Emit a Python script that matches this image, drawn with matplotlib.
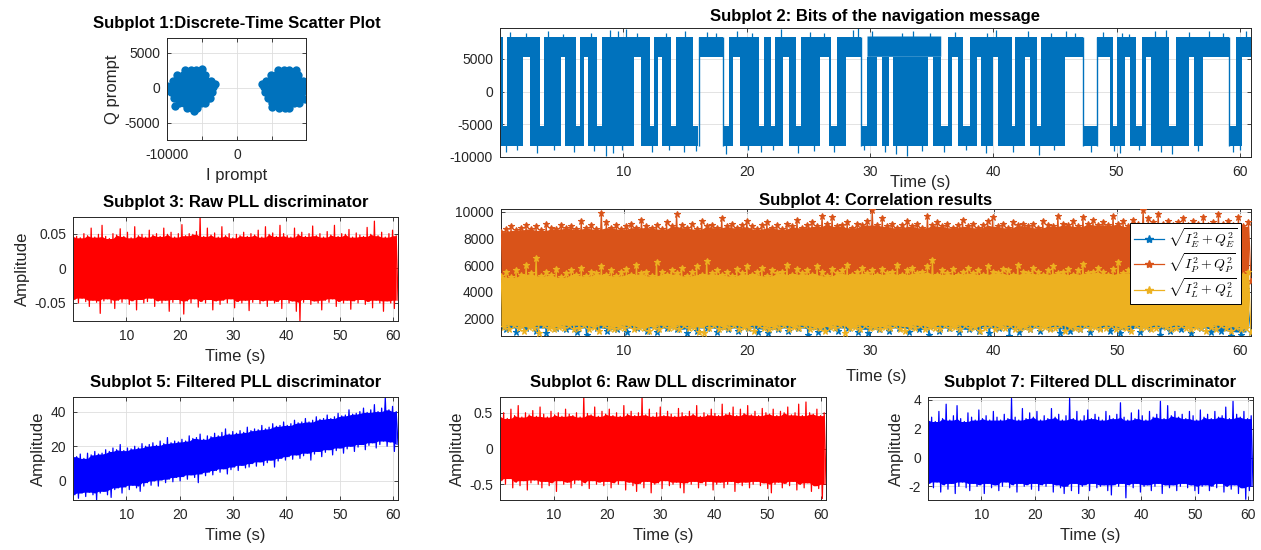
import numpy as np
import matplotlib.pyplot as plt
from matplotlib.lines import Line2D
from matplotlib.ticker import FuncFormatter

plt.rcParams['font.family'] = ['Liberation Sans', 'DejaVu Sans']
plt.rcParams['mathtext.fontset'] = 'cm'
plt.rcParams['axes.unicode_minus'] = False
plt.rcParams['path.simplify'] = False

# ---------------- values ----------------
# subplot 1: prompt I/Q points (two clusters)
iq_left_i = [-7400, -6600, -5800,
             -8500, -7700, -6900, -6100, -5300, -4500,
             -9100, -8300, -7500, -6700, -5900, -5100, -4300, -3700,
             -9500, -8700, -7900, -7100, -6300, -5500, -4700, -3900, -3400,
             -9400, -8600, -7800, -7000, -6200, -5400, -4600, -3800, -3500,
             -9000, -8200, -7400, -6600, -5800, -5000, -4200, -3800,
             -8300, -7500, -6700, -5900, -5100, -4500,
             -7200, -6400, -5700,
             -10000, -8900, -3200, -5000, -6200]
iq_left_q = [2500, 2500, 2500,
             1800, 1800, 1800, 1800, 1800, 1800,
             1000, 1000, 1000, 1000, 1000, 1000, 1000, 1000,
             200, 200, 200, 200, 200, 200, 200, 200, 200,
             -600, -600, -600, -600, -600, -600, -600, -600, -600,
             -1400, -1400, -1400, -1400, -1400, -1400, -1400, -1400,
             -2200, -2200, -2200, -2200, -2200, -2200,
             -2900, -2900, -2900,
             300, -2600, 600, 2700, -3300]
iq_right_i = [5900, 6700, 7500,
              4800, 5600, 6400, 7200, 8000, 8700,
              4200, 5000, 5800, 6600, 7400, 8200, 8900, 9400,
              3900, 4800, 5600, 6400, 7200, 8000, 8800, 9400,
              4000, 4900, 5700, 6500, 7300, 8100, 8900, 9300,
              4500, 5300, 6100, 6900, 7700, 8500, 9200,
              5000, 5800, 6600, 7400, 8200, 8800,
              6000, 6800, 7500,
              3600, 9900, 9700, 5000, 8500]
iq_right_q = [2500, 2500, 2500,
              1800, 1800, 1800, 1800, 1800, 1800,
              1000, 1000, 1000, 1000, 1000, 1000, 1000, 1000,
              200, 200, 200, 200, 200, 200, 200, 200,
              -600, -600, -600, -600, -600, -600, -600, -600,
              -1400, -1400, -1400, -1400, -1400, -1400, -1400,
              -2200, -2200, -2200, -2200, -2200, -2200,
              -2900, -2900, -2900,
              600, 800, -1600, -2700, 2600]

# subplot 2: navigation bits, segment end times (s) and state
# H = held high, L = held low, X = bits toggling quickly
nav_ends = [0.3, 0.6, 1.9, 2.4, 3.3, 3.6, 5.0, 5.3, 6.2, 6.5,
            6.8, 7.1, 7.9, 8.3, 10.9, 11.4, 12.2, 12.5, 12.8, 13.1,
            13.9, 14.3, 15.7, 16.1, 18.1, 18.6, 18.9, 19.5, 21.0, 21.4,
            22.0, 22.3, 23.0, 23.4, 24.0, 24.4, 26.0, 26.7, 26.9, 27.3,
            28.1, 29.3, 29.8, 30.6, 31.0, 31.6, 31.9, 34.7, 35.1, 35.8,
            36.3, 36.7, 37.1, 37.6, 38.1, 38.7, 39.0, 40.0, 40.4, 41.5,
            41.8, 42.6, 43.0, 43.6, 43.9, 45.8, 47.3, 48.4, 49.5, 49.7,
            50.0, 50.7, 51.1, 51.6, 52.1, 52.4, 52.8, 54.3, 54.8, 55.9,
            56.3, 57.0, 59.1, 59.7, 60.2, 61.0]
nav_states = ("XLXHXLXHXL" "XHXLXHXLXH" "XLXLHLXHXL" "XLXHXLXHXL" "XHLXHXHXHX"
              "LXHXLXHXHX" "LXHXLXHLHX" "LXHXLXHXLX" "HXHLXH")
nav_high = [8400, 5300]     # outer / inner edge of the high band
nav_low = [-5200, -8300]    # inner / outer edge of the low band
# isolated noise spikes beyond the band edges
nav_up_spike_t = [0.8, 2.1, 3.9, 5.1, 7.4, 8.9, 9.6, 10.2, 11.1, 13.5,
                  15.0, 16.8, 17.5, 19.2, 20.4, 22.8, 25.1, 26.3, 28.6, 29.0,
                  30.2, 32.6, 33.5, 34.9, 36.9, 39.5, 40.2, 42.8, 44.7, 45.9,
                  46.6, 48.9, 50.4, 51.0, 53.1, 54.0, 55.9, 57.5, 58.6, 60.5]
nav_up_spike_v = [9100, 8900, 9300, 8800, 9000, 9400, 9200, 9600, 9000, 8900,
                  9300, 9100, 8900, 9200, 9000, 9500, 9100, 8900, 9400, 9700,
                  9200, 9000, 9300, 8900, 9100, 9000, 9400, 9200, 9000, 9300,
                  8900, 9100, 9000, 8800, 9200, 9400, 9100, 9300, 9000, 9200]
nav_dn_spike_t = [0.5, 1.4, 3.0, 4.4, 6.0, 7.6, 8.6, 9.2, 9.9, 12.3,
                  13.7, 14.9, 15.9, 18.3, 20.1, 21.2, 22.1, 24.2, 25.5, 27.1,
                  29.5, 31.2, 32.1, 33.0, 34.2, 36.0, 37.8, 39.4, 41.6, 43.7,
                  44.9, 47.9, 49.8, 50.3, 51.8, 53.6, 54.5, 56.6, 59.4, 60.0]
nav_dn_spike_v = [-9200, -9000, -9400, -8900, -9300, -9100, -9900, -9400, -9000, -9200,
                  -8900, -9300, -9100, -9500, -9000, -9200, -8900, -9400, -9100, -9300,
                  -9000, -9200, -9600, -9800, -9100, -9300, -9000, -9400, -9200, -9700,
                  -9000, -9300, -9100, -9400, -9000, -9200, -9500, -9100, -9300, -9000]

# subplot 3: raw PLL discriminator, upper / lower edge of the trace
pll_hi = [0.052, 0.046, 0.044, 0.05, 0.047, 0.058, 0.045, 0.049, 0.062, 0.046,
          0.043, 0.05, 0.048, 0.057, 0.046, 0.052, 0.044, 0.06, 0.047, 0.049,
          0.045, 0.055, 0.048, 0.05, 0.046, 0.058, 0.049, 0.052, 0.045, 0.05,
          0.063, 0.047, 0.05, 0.049, 0.053, 0.074, 0.046, 0.058, 0.048, 0.051,
          0.045, 0.06, 0.047, 0.05, 0.044, 0.049, 0.047, 0.052, 0.046, 0.05,
          0.048, 0.055, 0.045, 0.06, 0.049, 0.051, 0.046, 0.062, 0.05, 0.047,
          0.045, 0.058, 0.049, 0.052, 0.046, 0.05, 0.061, 0.047, 0.05, 0.045,
          0.053, 0.048, 0.062, 0.046, 0.05, 0.049, 0.056, 0.045, 0.051, 0.048,
          0.046, 0.059, 0.049, 0.068, 0.047, 0.052, 0.045, 0.05, 0.055, 0.047]
pll_lo = [-0.045, -0.05, -0.043, -0.048, -0.055, -0.046, -0.049, -0.065, -0.047, -0.044,
          -0.05, -0.058, -0.046, -0.049, -0.044, -0.052, -0.047, -0.06, -0.045, -0.05,
          -0.048, -0.043, -0.055, -0.047, -0.05, -0.046, -0.062, -0.049, -0.045, -0.051,
          -0.066, -0.047, -0.05, -0.044, -0.056, -0.048, -0.05, -0.045, -0.06, -0.047,
          -0.052, -0.046, -0.05, -0.044, -0.057, -0.048, -0.05, -0.046, -0.061, -0.049,
          -0.045, -0.051, -0.047, -0.055, -0.046, -0.05, -0.048, -0.058, -0.045, -0.05,
          -0.047, -0.062, -0.076, -0.049, -0.045, -0.052, -0.047, -0.05, -0.06, -0.046,
          -0.049, -0.044, -0.055, -0.048, -0.05, -0.046, -0.059, -0.047, -0.05, -0.045,
          -0.052, -0.048, -0.057, -0.046, -0.05, -0.062, -0.047, -0.05, -0.058, -0.046]

# subplot 5: filtered PLL discriminator
fpll_hi = [16, 14, 15.5, 13, 16, 15, 17, 15.5, 16, 18,
           17, 19, 18, 21, 17.5, 19, 18.5, 20, 19, 21.5,
           20, 21, 22, 20.5, 23, 21.5, 25, 22, 23, 22.5,
           24, 23, 26, 24.5, 25, 27, 24, 26, 25.5, 27.5,
           26, 28, 30, 27, 28.5, 27.5, 29, 28, 31, 29,
           30, 29.5, 32, 30, 31, 33, 31.5, 32, 34, 32,
           33, 35, 33.5, 34, 36, 34, 35, 37, 35.5, 36,
           38, 36, 37, 39, 37.5, 38, 41, 38.5, 39, 40,
           42, 39.5, 41, 44, 40, 42, 48, 41, 43, 40]
fpll_lo = [-8, -10, -7, -9, -6.5, -8, -11, -7, -6, -8,
           -9.5, -5, -4, -7, -3.5, -5, -2.5, -4, -6, -3,
           -1, -2.5, 0, -3, 0.5, -1, 1, -0.5, 2, 0,
           2.5, 1, 3.5, 2, -1, 4, 3, 5, 3.5, 6,
           5, 7, 4, 6.5, 8, 6, 9, 7.5, 8, 10,
           8.5, 11, 9, 10.5, 12, 8, 11.5, 13, 12, 14,
           12.5, 15, 13, 14.5, 16, 12, 15.5, 17, 14, 16.5,
           18, 15, 17.5, 19, 16, 18.5, 20, 17, 19.5, 21,
           18, 20.5, 22, 19, 21, 23, 20, 22.5, 17, 21]

# subplot 6: raw DLL discriminator
dll_hi = [0.45, 0.5, 0.42, 0.55, 0.46, 0.6, 0.44, 0.5, 0.47, 0.53,
          0.45, 0.58, 0.48, 0.44, 0.52, 0.47, 0.5, 0.45, 0.55, 0.48,
          0.46, 0.5, 0.44, 0.72, 0.49, 0.47, 0.58, 0.45, 0.52, 0.48,
          0.55, 0.46, 0.5, 0.45, 0.6, 0.48, 0.52, 0.46, 0.5, 0.72,
          0.47, 0.55, 0.45, 0.5, 0.58, 0.46, 0.52, 0.48, 0.45, 0.56,
          0.5, 0.46, 0.52, 0.48, 0.6, 0.45, 0.5, 0.47, 0.55, 0.49,
          0.46, 0.62, 0.48, 0.5, 0.58, 0.46, 0.55, 0.49, 0.6, 0.47,
          0.52, 0.46, 0.56, 0.5, 0.48, 0.55, 0.46, 0.52, 0.5, 0.58,
          0.47, 0.5, 0.62, 0.46, 0.65, 0.5, 0.48, 0.55, 0.46, 0.5]
dll_lo = [-0.45, -0.5, -0.42, -0.55, -0.47, -0.52, -0.45, -0.58, -0.48, -0.44,
          -0.5, -0.55, -0.46, -0.52, -0.48, -0.6, -0.45, -0.5, -0.47, -0.55,
          -0.49, -0.44, -0.52, -0.48, -0.56, -0.45, -0.5, -0.47, -0.52, -0.46,
          -0.55, -0.48, -0.5, -0.45, -0.58, -0.47, -0.52, -0.6, -0.49, -0.55,
          -0.46, -0.62, -0.5, -0.48, -0.56, -0.45, -0.52, -0.5, -0.47, -0.55,
          -0.62, -0.48, -0.5, -0.46, -0.55, -0.48, -0.52, -0.46, -0.58, -0.5,
          -0.47, -0.55, -0.5, -0.46, -0.6, -0.48, -0.52, -0.47, -0.55, -0.5,
          -0.46, -0.52, -0.48, -0.56, -0.62, -0.5, -0.47, -0.55, -0.49, -0.52,
          -0.46, -0.58, -0.5, -0.55, -0.48, -0.6, -0.52, -0.56, -0.7, -0.5]

# subplot 7: filtered DLL discriminator
fdll_hi = [2.6, 2.8, 2.5, 3.2, 2.7, 3.7, 2.6, 2.9, 3.6, 2.7,
           2.5, 3.1, 2.8, 2.6, 3.3, 2.7, 2.9, 2.6, 3.2, 2.8,
           2.6, 3.0, 2.7, 4.1, 2.8, 2.6, 3.4, 2.7, 3.1, 2.8,
           3.2, 2.6, 2.9, 2.7, 3.4, 2.8, 3.0, 2.6, 2.9, 4.1,
           2.7, 3.2, 2.6, 2.9, 3.3, 2.7, 3.0, 2.8, 2.6, 3.2,
           2.9, 2.7, 3.0, 3.8, 2.8, 2.6, 3.1, 2.7, 3.3, 2.9,
           2.6, 3.2, 2.8, 3.0, 3.9, 2.7, 3.6, 2.9, 3.2, 2.8,
           3.0, 2.7, 3.2, 2.9, 2.6, 3.3, 2.8, 3.0, 2.7, 3.2,
           2.8, 2.9, 3.5, 2.7, 3.9, 3.0, 2.8, 3.2, 2.7, 2.9]
fdll_lo = [-1.8, -2.1, -1.7, -2.4, -1.9, -2.2, -1.8, -2.5, -2.0, -1.7,
           -2.1, -2.3, -1.8, -2.0, -1.9, -2.5, -1.8, -2.1, -1.9, -2.3,
           -2.0, -1.7, -2.1, -1.9, -2.4, -1.8, -2.0, -1.9, -2.2, -1.8,
           -2.3, -1.9, -2.0, -1.8, -2.4, -1.9, -2.1, -2.5, -2.0, -2.3,
           -1.8, -2.5, -2.0, -1.9, -2.3, -1.8, -2.1, -2.0, -1.9, -2.3,
           -2.6, -1.9, -2.0, -1.8, -2.8, -1.9, -2.1, -1.8, -2.4, -2.0,
           -1.9, -2.3, -2.0, -1.8, -2.5, -1.9, -2.1, -1.9, -2.3, -2.0,
           -1.8, -2.1, -1.9, -2.3, -2.5, -2.0, -1.9, -2.3, -2.0, -2.1,
           -1.8, -2.4, -2.0, -2.2, -1.9, -2.5, -2.1, -2.9, -2.3, -2.0]

# subplot 4: correlator magnitudes (early / prompt / late)
early_hi = [4000, 4300, 3900, 4200, 4100, 3800, 4400, 4000, 4200, 3900, 4100, 4300, 3800, 4200, 4000,
            4300, 3900, 4100, 4400, 4000, 3800, 4200, 4100, 4300, 3900, 4000, 4200, 3800, 4400, 4100,
            3900, 4300, 4000, 4200, 3800, 4100, 4400, 3900, 4200, 4000, 4300, 3800, 4100, 4200, 3900,
            4400, 4000, 4100, 4300, 3800, 4200, 3900, 4000, 4400, 4100, 3800, 4300, 4000, 4200, 3900,
            4100, 4300, 3800, 4200, 4000, 4400, 3900, 4100, 4200, 3800, 4300, 4000, 4100, 3900, 4200]
early_lo = [1200, 1000, 1300, 1100, 900, 1300, 1200, 1000, 800, 1300, 1100, 1200, 1000, 1300, 1100,
            1000, 1300, 1200, 900, 1100, 1300, 1000, 1200, 1100, 1300, 1000, 900, 1200, 1100, 1300,
            800, 1000, 1200, 1100, 1300, 1000, 900, 1200, 1100, 1300, 1000, 1200, 800, 1100, 1300,
            1000, 1200, 1100, 900, 1300, 700, 1000, 1200, 1100, 1300, 900, 1100, 1200, 1000, 1300,
            1100, 900, 1200, 1000, 1300, 800, 1100, 1200, 900, 1300, 1000, 1100, 700, 800, 1000]
prompt_hi = [8500, 8700, 8900, 8600, 8800, 9000, 8700, 8900, 8600, 9100, 8800, 8700, 9000, 8800, 8900,
             8700, 9300, 8800, 9000, 8700, 9900, 9200, 8800, 9000, 8700, 8900, 9100, 8800, 9400, 8900,
             8800, 9000, 8700, 9200, 8900, 9800, 9000, 8800, 9100, 8700, 9300, 8900, 9000, 8800, 9500,
             8900, 9100, 8800, 9000, 9300, 8900, 8700, 9000, 9200, 8800, 9000, 8700, 9100, 8900, 9400,
             8800, 9000, 9200, 8900, 9700, 9100, 9600, 8900, 9000, 9200, 8800, 9100, 9000, 9300, 10100,
             9000, 9500, 8900, 9100, 8800, 9000, 9300, 8900, 9100, 8800, 9700, 9000, 9200, 8900, 9100,
             8800, 9000, 9400, 8900, 9100, 8800, 9000, 9300, 9600, 8900, 9100, 8800, 9200, 9000, 9100,
             8900, 9100, 8800, 9300, 9000, 8900, 9700, 9100, 9000, 9300, 8900, 9600, 9100, 9400, 9000,
             9200, 9000, 9700, 9100, 9300, 8900, 9400, 9100, 10100, 9500, 9200, 9800, 9100, 9300, 9000,
             9200, 9500, 9000, 9300, 9100, 9600, 9000, 9200, 9800, 9100, 9300, 9000, 9600, 8900, 9200]
prompt_lo = [4800, 4600, 4900, 4700, 5000, 4800, 4600, 4900, 4700, 4800, 5000, 4600, 4800, 4900, 4700,
             4900, 4700, 4800, 4600, 5000, 4700, 4900, 4800, 4600, 4800, 4900, 4700, 5000, 4800, 4600,
             4700, 4900, 4600, 4800, 4700, 5000, 4800, 4600, 4900, 4700, 4800, 4600, 4900, 5000, 4800,
             4600, 4800, 4900, 4700, 4800, 4600, 5000, 4700, 4900, 4800, 4700, 4900, 4600, 4800, 4900,
             4800, 4700, 4600, 4900, 4800, 5000, 4700, 4800, 4600, 4900, 4700, 4800, 5000, 4600, 4800,
             4700, 4900, 4800, 4600, 4700, 4900, 4800, 5000, 4700, 4600, 4800, 4900, 4700, 4800, 4600,
             4900, 4600, 4800, 4700, 5000, 4800, 4900, 4600, 4700, 4800, 4900, 4700, 4600, 4800, 5000,
             4700, 4800, 4600, 4900, 4800, 4700, 4900, 4600, 4800, 5000, 4700, 4800, 4900, 4600, 4700,
             4800, 4900, 4700, 4600, 4800, 5000, 4700, 4900, 4800, 4600, 4900, 4700, 4800, 4600, 4900,
             4700, 4800, 5000, 4600, 4900, 4700, 4800, 4600, 4900, 4800, 4700, 5000, 4800, 4600, 4800]
late_hi = [5200, 5500, 5100, 5600, 5300, 6000, 5400, 6500, 5200, 5500, 5300, 5700, 5100, 5400, 5600,
           5300, 5800, 5200, 5500, 5400, 5900, 5300, 5600, 5200, 5500, 5700, 5300, 6000, 5400, 5500,
           5200, 6200, 5500, 5300, 5600, 5400, 5800, 5200, 5500, 5900, 5300, 6300, 5400, 5600, 5300,
           5500, 5200, 5700, 5400, 5900, 5300, 5500, 5800, 5200, 5600, 5400, 5500, 6000, 5300, 5700,
           5400, 5600, 5300, 5900, 5500, 5200, 5700, 5400, 5600, 6000, 5300, 5500, 5800, 5400, 5600,
           5300, 5700, 5400, 5500, 6000, 5300, 5600, 5800, 5400, 5500, 5900, 6400, 5300, 5600, 5400,
           5700, 5300, 5500, 5800, 5400, 5600, 5300, 5900, 5500, 5400, 5700, 5600, 5300, 6000, 5500,
           5400, 5800, 5500, 5300, 5600, 5900, 5400, 5500, 5700, 5300, 5600, 6100, 5400, 5500, 5800,
           5500, 5300, 5700, 6200, 5400, 5600, 5500, 5800, 5300, 5600, 5400, 5900, 5500, 5700, 5400,
           5600, 5300, 5800, 5500, 5400, 5900, 5600, 5300, 5700, 5500, 6000, 5400, 5600, 5300, 5500]
late_lo = [1400, 1200, 1500, 1300, 1100, 1400, 1300, 900, 1500, 1300, 1200, 1400, 1300, 1500, 1200,
           1300, 1500, 1200, 1400, 1100, 1500, 1300, 1200, 1400, 1300, 1500, 1200, 1400, 1300, 1100,
           1400, 1200, 1500, 1300, 1400, 1200, 1500, 1300, 1400, 1000, 900, 1300, 1500, 1200, 1400,
           1300, 1500, 1200, 1400, 1300, 1100, 1500, 1300, 1200, 1400, 1300, 1500, 1200, 1400, 1300,
           1500, 1200, 1400, 1300, 1100, 1400, 1300, 1500, 900, 1300, 1400, 1200, 1500, 1300, 1400,
           1200, 1400, 1300, 1500, 1200, 1100, 1400, 1300, 1500, 1200, 1400, 1300, 1200, 1500, 1300,
           1400, 1200, 1500, 1300, 1400, 1100, 1300, 1500, 1200, 1400, 1300, 1500, 1200, 1300, 1400,
           1200, 1500, 1300, 1400, 1200, 1300, 1500, 1100, 1400, 1300, 1200, 1500, 1300, 1400, 1200,
           1300, 1500, 1200, 1400, 1300, 1100, 1500, 1300, 1400, 1200, 1300, 1500, 1400, 1200, 1300,
           1500, 1300, 1200, 1400, 1300, 1100, 1400, 1200, 1500, 1300, 1100, 1400, 1200, 1300, 1000]

T_END = 60.9
time_ticks = [10, 20, 30, 40, 50, 60]

# ---------------- drawing ----------------
W, H = 1261, 550
fig = plt.figure(figsize=(W / 100, H / 100), dpi=100)
DARK = '#262626'
BLUE = '#0072BD'


def add_ax(x0, y0, x1, y1):
    # box given in pixels of the 1261x550 image, y measured from the top
    return fig.add_axes([x0 / W, 1 - y1 / H, (x1 - x0) / W, (y1 - y0) / H])


def style(ax, title, pad=6):
    ax.set_title(title, fontsize=12, fontweight='bold', pad=pad)
    ax.grid(True, color='#dedede', lw=0.6)
    ax.set_axisbelow(True)
    ax.tick_params(direction='in', length=3, width=0.6, colors=DARK,
                   labelsize=10, top=True, right=True, pad=5)
    ax.tick_params(axis='x', pad=6)
    for sp in ax.spines.values():
        sp.set_color(DARK)
        sp.set_linewidth(0.7)
    ax.yaxis.set_major_formatter(FuncFormatter(lambda v, _: f'{v:g}'))


def inner_edge(v, upper):
    # edge of the solid core of the trace, so single spikes stay thin
    v = np.asarray(v, float)
    p = np.r_[v[0], v, v[-1]]
    s = np.vstack([p[:-2], p[1:-1], p[2:]])
    return s.min(0) if upper else s.max(0)


def band(ax, hi, lo, color, z=2, **kw):
    y = np.column_stack([hi, lo]).ravel()
    t = np.linspace(0, T_END, y.size)
    ax.fill_between(t[0::2], inner_edge(lo, False), inner_edge(hi, True),
                    color=color, lw=0, zorder=z)
    ax.plot(t, y, color=color, zorder=z + 0.05, **kw)


def time_axis(ax, pad=4):
    ax.set_xlim(0, T_END)
    ax.set_xticks(time_ticks)
    ax.set_xlabel('Time (s)', fontsize=12, color=DARK, labelpad=pad)


def nav_state_at(t):
    return np.array([nav_states[s] for s in np.searchsorted(nav_ends, t, side='right')])


# subplot 1
ax1 = add_ax(167, 38, 306, 140)
style(ax1, 'Subplot 1:Discrete-Time Scatter Plot', pad=7)
ax1.plot(iq_left_i, iq_left_q, 'o', color=BLUE, ms=6, mew=0)
ax1.plot(iq_right_i, iq_right_q, 'o', color=BLUE, ms=6, mew=0)
ax1.set_xlim(-10000, 9860)
ax1.set_ylim(-7430, 7143)
ax1.set_xticks([-10000, -5000, 0, 5000])
ax1.set_xticklabels(['-10000', '', '0', ''])
ax1.set_yticks([-5000, 0, 5000])
ax1.set_xlabel('I prompt', fontsize=12, color=DARK, labelpad=4)
ax1.set_ylabel('Q prompt', fontsize=12, color=DARK, labelpad=3)

# subplot 2: high band, low band, and the toggling regions in between
ax2 = add_ax(500, 28, 1251, 157)
style(ax2, 'Subplot 2: Bits of the navigation message', pad=5)
t_nav = np.arange(0, T_END, 0.02)
state = nav_state_at(t_nav)
fill_kw = dict(color=BLUE, lw=0, step='post')
ax2.fill_between(t_nav, nav_high[1], nav_high[0], where=(state != 'L'), **fill_kw)
ax2.fill_between(t_nav, nav_low[1], nav_low[0], where=(state != 'H'), **fill_kw)
ax2.fill_between(t_nav, nav_low[0], nav_high[1], where=(state == 'X'), **fill_kw)
for i in range(1, len(nav_states)):
    if {nav_states[i - 1], nav_states[i]} == {'H', 'L'}:
        ax2.vlines(nav_ends[i - 1], nav_low[1], nav_high[0], color=BLUE, lw=1)
up_t, up_v = np.array(nav_up_spike_t), np.array(nav_up_spike_v)
keep = nav_state_at(up_t) != 'L'
ax2.vlines(up_t[keep], nav_high[0] - 200, up_v[keep], color=BLUE, lw=0.9)
dn_t, dn_v = np.array(nav_dn_spike_t), np.array(nav_dn_spike_v)
keep = nav_state_at(dn_t) != 'H'
ax2.vlines(dn_t[keep], nav_low[1] + 200, dn_v[keep], color=BLUE, lw=0.9)
ax2.set_ylim(-10000, 9700)
ax2.set_yticks([-10000, -5000, 0, 5000])
time_axis(ax2)
ax2.xaxis.set_label_coords(0.56, -0.14)

# subplot 3
ax3 = add_ax(73, 217, 398, 321)
style(ax3, 'Subplot 3: Raw PLL discriminator', pad=7)
band(ax3, pll_hi, pll_lo, '#FF0000', lw=0.9)
ax3.set_ylim(-0.076, 0.074)
ax3.set_yticks([-0.05, 0, 0.05])
ax3.set_ylabel('Amplitude', fontsize=12, color=DARK, labelpad=3)
time_axis(ax3)

# subplot 4
ax4 = add_ax(501, 209, 1251, 336)
style(ax4, 'Subplot 4: Correlation results', pad=3)
colors4 = [BLUE, '#D95319', '#EDB120']
series4 = [(early_hi, early_lo), (prompt_hi, prompt_lo), (late_hi, late_lo)]
for n, ((hi, lo), c) in enumerate(zip(series4, colors4)):
    band(ax4, hi, lo, c, z=2 + n, lw=0.9, marker='*', ms=4.5, mew=0.8)
ax4.set_ylim(700, 10200)
ax4.set_yticks([2000, 4000, 6000, 8000, 10000])
time_axis(ax4, pad=8)
labels4 = [r'$\sqrt{I_E^2+Q_E^2}$', r'$\sqrt{I_P^2+Q_P^2}$', r'$\sqrt{I_L^2+Q_L^2}$']
handles4 = [Line2D([], [], color=c, lw=0.9, marker='*', ms=6) for c in colors4]
leg = ax4.legend(handles4, labels4, loc='upper right', bbox_to_anchor=(0.987, 0.89),
                 fontsize=10, frameon=True, fancybox=False, framealpha=1,
                 handlelength=2.2, borderpad=0.25, labelspacing=0.15,
                 handletextpad=0.3, borderaxespad=0)
leg.get_frame().set_edgecolor('#000000')
leg.get_frame().set_linewidth(0.7)
leg.set_zorder(10)

# subplot 5
ax5 = add_ax(73, 397, 398, 500)
style(ax5, 'Subplot 5: Filtered PLL discriminator', pad=7)
band(ax5, fpll_hi, fpll_lo, '#0000FF', lw=0.9)
ax5.set_ylim(-11, 48.4)
ax5.set_yticks([0, 20, 40])
ax5.set_ylabel('Amplitude', fontsize=12, color=DARK, labelpad=3)
time_axis(ax5)

# subplot 6
ax6 = add_ax(500, 397, 826, 500)
style(ax6, 'Subplot 6: Raw DLL discriminator', pad=7)
band(ax6, dll_hi, dll_lo, '#FF0000', lw=0.9)
ax6.set_ylim(-0.72, 0.72)
ax6.set_yticks([-0.5, 0, 0.5])
ax6.set_ylabel('Amplitude', fontsize=12, color=DARK, labelpad=3)
time_axis(ax6)

# subplot 7
ax7 = add_ax(928, 397, 1253, 500)
style(ax7, 'Subplot 7: Filtered DLL discriminator', pad=7)
band(ax7, fdll_hi, fdll_lo, '#0000FF', lw=0.9)
ax7.set_ylim(-2.95, 4.2)
ax7.set_yticks([-2, 0, 2, 4])
ax7.set_ylabel('Amplitude', fontsize=12, color=DARK, labelpad=3)
time_axis(ax7)

fig.savefig('out.png', dpi=100, facecolor='white')
